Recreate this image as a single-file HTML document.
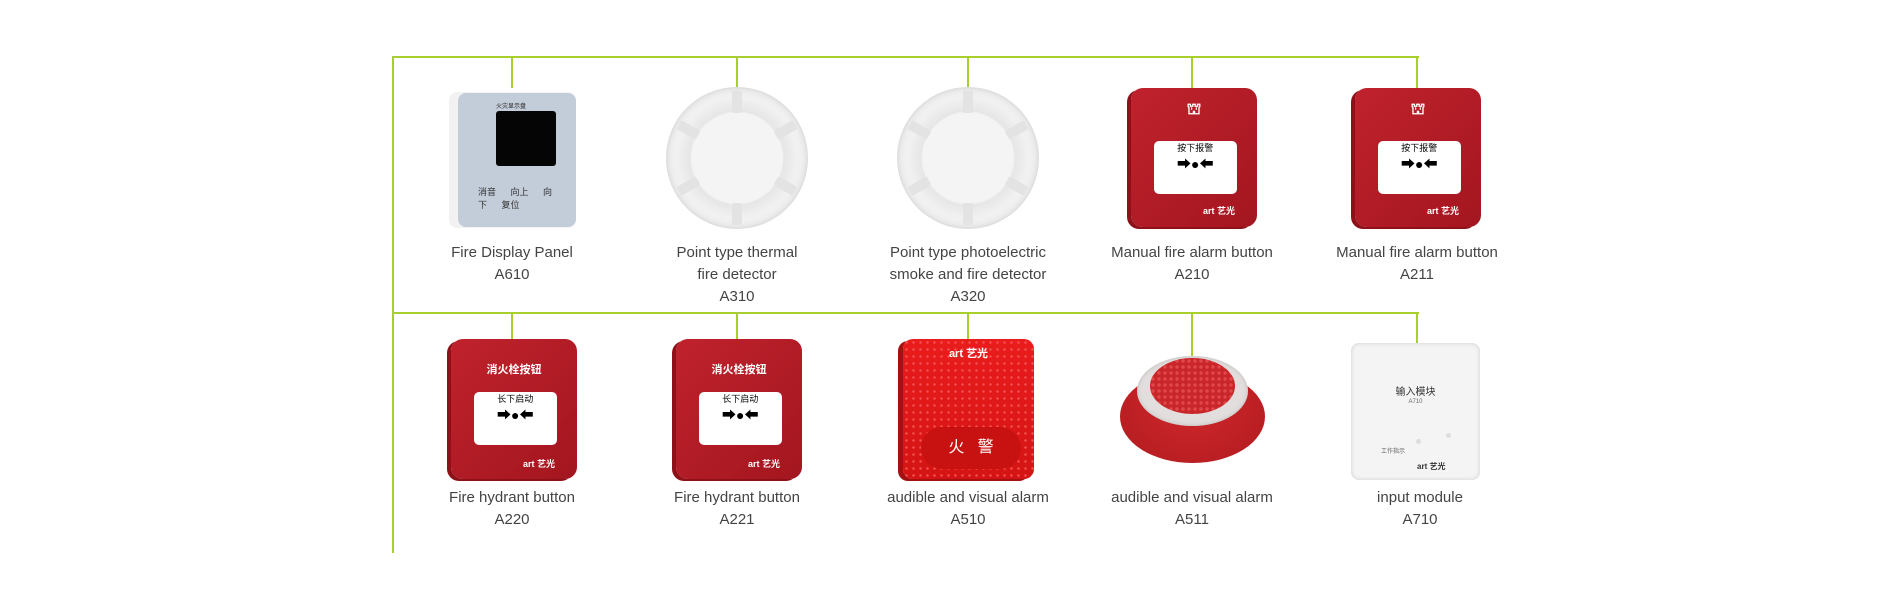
<!DOCTYPE html>
<html><head><meta charset="utf-8"><style>
body{margin:0;width:1900px;height:600px;background:#fff;position:relative;overflow:hidden;font-family:"Liberation Sans","Noto Sans CJK SC",sans-serif}
.l{position:absolute;background:#a9cf2c}
.t{position:absolute;width:220px;text-align:center;color:#444;font-size:15px;line-height:22px}
.a{position:absolute}
.red{background:linear-gradient(135deg,#c0222c,#a3161f);border-radius:12px;box-shadow:-4px 2px 0 #8e1119}
.win{position:absolute;left:18%;top:38%;width:66%;height:38%;background:#fff;border-radius:5px;text-align:center;font-size:9px;color:#000}
.wt{position:absolute;width:100%;text-align:center;color:#fff;font-size:11px;font-weight:bold}
.det{position:absolute;width:142px;height:142px;border-radius:50%;background:radial-gradient(circle,#f4f4f4 45%,#e6e6e6 47%,#f1f1f1 60%,#e0e0e0 100%);box-shadow:inset 0 0 6px #ccc}
.tab{position:absolute;left:66px;top:0;width:10px;height:71px;transform-origin:5px 71px}
.tab:before{content:"";position:absolute;left:0;top:4px;width:10px;height:22px;background:#e3e3e3;border-radius:2px}
</style></head><body>
<div class="l" style="left:392px;top:56px;width:1027px;height:2px"></div>
<div class="l" style="left:392px;top:56px;width:2px;height:497px"></div>
<div class="l" style="left:392px;top:312px;width:1027px;height:2px"></div>
<div class="l" style="left:511px;top:56px;width:2px;height:32px"></div>
<div class="l" style="left:736px;top:56px;width:2px;height:32px"></div>
<div class="l" style="left:967px;top:56px;width:2px;height:32px"></div>
<div class="l" style="left:1191px;top:56px;width:2px;height:32px"></div>
<div class="l" style="left:1416px;top:56px;width:2px;height:32px"></div>
<div class="l" style="left:511px;top:312px;width:2px;height:28px"></div>
<div class="l" style="left:736px;top:312px;width:2px;height:28px"></div>
<div class="l" style="left:967px;top:312px;width:2px;height:28px"></div>
<div class="l" style="left:1191px;top:312px;width:2px;height:44px"></div>
<div class="l" style="left:1416px;top:312px;width:2px;height:32px"></div>

<!-- row1 -->
<div class="a" style="left:449px;top:92px;width:127px;height:136px;background:#f2f2f2;border-radius:8px"></div>
<div class="a" style="left:458px;top:93px;width:118px;height:134px;background:#c3ccd9;border-radius:8px"></div>
<div class="a" style="left:496px;top:101px;width:40px;height:8px;font-size:6px;color:#222">火灾显示盘</div>
<div class="a" style="left:496px;top:111px;width:60px;height:55px;background:#050505;border-radius:3px"></div>
<div class="a" style="left:478px;top:185px;width:80px;font-size:9px;color:#333;word-spacing:12px">消音 向上 向下 复位</div>
<div class="det" style="left:666px;top:87px"><div class="tab" style="transform:rotate(0deg)"></div><div class="tab" style="transform:rotate(60deg)"></div><div class="tab" style="transform:rotate(120deg)"></div><div class="tab" style="transform:rotate(180deg)"></div><div class="tab" style="transform:rotate(240deg)"></div><div class="tab" style="transform:rotate(300deg)"></div></div>
<div class="det" style="left:897px;top:87px"><div class="tab" style="transform:rotate(0deg)"></div><div class="tab" style="transform:rotate(60deg)"></div><div class="tab" style="transform:rotate(120deg)"></div><div class="tab" style="transform:rotate(180deg)"></div><div class="tab" style="transform:rotate(240deg)"></div><div class="tab" style="transform:rotate(300deg)"></div></div>
<div class="a red" style="left:1131px;top:88px;width:126px;height:139px"><div class="wt" style="top:12px;font-size:16px">⛫</div><div class="win">按下报警<br><b style="font-size:14px">➡●⬅</b></div><div class="wt" style="top:116px;left:25px;font-size:9px">art 艺光</div></div>
<div class="a red" style="left:1355px;top:88px;width:126px;height:139px"><div class="wt" style="top:12px;font-size:16px">⛫</div><div class="win">按下报警<br><b style="font-size:14px">➡●⬅</b></div><div class="wt" style="top:116px;left:25px;font-size:9px">art 艺光</div></div>

<div class="t" style="left:402px;top:242px">Fire Display Panel<br>A610</div>
<div class="t" style="left:627px;top:242px">Point type thermal<br>fire detector<br>A310</div>
<div class="t" style="left:858px;top:242px">Point type photoelectric<br>smoke and fire detector<br>A320</div>
<div class="t" style="left:1082px;top:242px">Manual fire alarm button<br>A210</div>
<div class="t" style="left:1307px;top:242px">Manual fire alarm button<br>A211</div>

<!-- row2 -->
<div class="a red" style="left:451px;top:339px;width:126px;height:140px"><div class="wt" style="top:22px">消火栓按钮</div><div class="win">长下启动<br><b style="font-size:14px">➡●⬅</b></div><div class="wt" style="top:118px;left:25px;font-size:9px">art 艺光</div></div>
<div class="a red" style="left:676px;top:339px;width:126px;height:140px"><div class="wt" style="top:22px">消火栓按钮</div><div class="win">长下启动<br><b style="font-size:14px">➡●⬅</b></div><div class="wt" style="top:118px;left:25px;font-size:9px">art 艺光</div></div>
<div class="a" style="left:903px;top:339px;width:131px;height:140px;background:radial-gradient(circle,#f35050 1px,transparent 1.5px) 0 0/7px 7px,linear-gradient(#ea1c1c,#d41414);border-radius:10px;box-shadow:-5px 2px 0 #a51010"><div class="wt" style="top:6px">art 艺光</div><div class="a" style="left:18px;top:88px;width:100px;height:42px;border-radius:21px;background:#c81212;color:#fff;font-size:16px;line-height:42px;text-align:center">火 &nbsp; 警</div></div>
<div class="a" style="left:1120px;top:370px;width:145px;height:93px;border-radius:50%;background:radial-gradient(ellipse at 50% 30%,#d2282c,#b01b1f)"></div>
<div class="a" style="left:1137px;top:356px;width:111px;height:70px;border-radius:50%;background:#e3dede;box-shadow:inset 0 0 5px #bbb"></div>
<div class="a" style="left:1150px;top:358px;width:85px;height:56px;border-radius:50%;background:radial-gradient(circle,#e0474b 1.5px,transparent 2px) 0 0/6px 6px,#c9262a"></div>
<div class="a" style="left:1351px;top:343px;width:129px;height:137px;background:#f4f4f4;border-radius:8px;box-shadow:inset 0 0 4px #ccc"><div class="a" style="top:40px;width:100%;text-align:center;font-size:10px;color:#333">输入模块</div><div class="a" style="top:56px;width:100%;text-align:center;font-size:6px;color:#666">A710</div><div class="a" style="left:66px;top:118px;font-size:8px;color:#333;font-weight:bold">art 艺光</div><div class="a" style="left:30px;top:103px;font-size:6px;color:#666">工作指示</div><div class="a" style="left:65px;top:96px;width:5px;height:5px;border-radius:50%;background:#ddd"></div><div class="a" style="left:95px;top:90px;width:5px;height:5px;border-radius:50%;background:#ddd"></div></div>

<div class="t" style="left:402px;top:487px">Fire hydrant button<br>A220</div>
<div class="t" style="left:627px;top:487px">Fire hydrant button<br>A221</div>
<div class="t" style="left:858px;top:487px">audible and visual alarm<br>A510</div>
<div class="t" style="left:1082px;top:487px">audible and visual alarm<br>A511</div>
<div class="t" style="left:1310px;top:487px">input module<br>A710</div>
</body></html>
